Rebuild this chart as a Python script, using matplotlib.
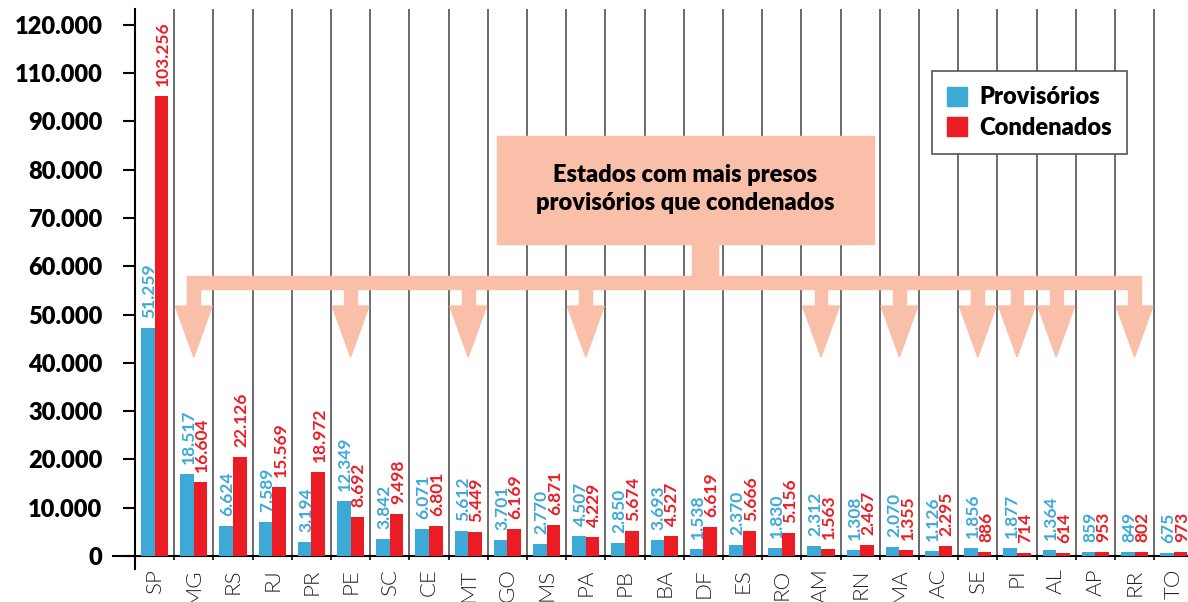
import matplotlib
matplotlib.use("Agg")
import matplotlib.pyplot as plt
import matplotlib.patches as mpatches
import matplotlib.transforms as mtransforms
import numpy as np

# data
states = ["SP", "MG", "RS", "RJ", "PR", "PE", "SC", "CE", "MT", "GO", "MS", "PA",
          "PB", "BA", "DF", "ES", "RO", "AM", "RN", "MA", "AC", "SE", "PI", "AL",
          "AP", "RR", "TO"]
provisorios = [51259, 18517, 6624, 7589, 3194, 12349, 3842, 6071, 5612, 3701, 2770,
               4507, 2850, 3693, 1538, 2370, 1830, 2312, 1308, 2070, 1126, 1856,
               1877, 1364, 859, 849, 675]
condenados = [103256, 16604, 22126, 15569, 18972, 8692, 9498, 6801, 5449, 6169, 6871,
              4229, 5674, 4527, 6619, 5666, 5156, 1563, 2467, 1355, 2295, 886, 714,
              614, 953, 802, 973]
ytick_labels = ["0", "10.000", "20.000", "30.000", "40.000", "50.000", "60.000",
                "70.000", "80.000", "90.000", "110.000", "120.000"]

BLUE = "#3DA9D7"
RED = "#EC1C24"
SALMON = "#F9BFA8"

plt.rcParams["font.family"] = ["Lato", "DejaVu Sans"]


def fmt(v):
    return f"{v:,}".replace(",", ".")


fig = plt.figure(figsize=(11.88, 6.02), dpi=100)
ax = fig.add_axes([135 / 1188, 46 / 602, 27 * 39.2 / 1188, 547 / 602])

x = np.arange(len(states))
w = 0.345
ax.bar(x - w / 2, provisorios, w, color=BLUE, zorder=3)
ax.bar(x + w / 2, condenados, w, color=RED, zorder=3)

for i in x:
    ax.annotate(fmt(provisorios[i]), (x[i] - w / 2, provisorios[i]), xytext=(1.5, 10),
                textcoords="offset pixels", rotation=90, ha="center", va="bottom",
                color=BLUE, fontsize=12.5, fontweight="bold", zorder=6)
    ax.annotate(fmt(condenados[i]), (x[i] + w / 2, condenados[i]), xytext=(1.5, 10),
                textcoords="offset pixels", rotation=90, ha="center", va="bottom",
                color=RED, fontsize=12.5, fontweight="bold", zorder=6)

# axis ticks spaced like the reference's printed scale
tick_step = 10840
ax.set_xlim(-0.5, len(states) - 0.5)
ax.set_ylim(0, tick_step * 11.33)
ax.set_yticks(np.arange(len(ytick_labels)) * tick_step, ytick_labels,
              fontsize=17, fontweight="heavy")
ax.tick_params(axis="y", length=9, width=1.5, pad=14.5)

ax.set_xticks(x + 0.5, [""] * len(x))
ax.tick_params(axis="x", which="major", length=3, width=1.2)
ax.set_xticks(x, states, minor=True, rotation=90, fontsize=16, fontweight=300,
              color="#222222")
ax.tick_params(axis="x", which="minor", length=0, pad=9)

for s in ["top", "right"]:
    ax.spines[s].set_visible(False)
for s in ["left", "bottom"]:
    ax.spines[s].set_linewidth(1.5)

ax.plot([0, 0], [0, -13 / 547], transform=ax.transAxes, clip_on=False, color="k", lw=1.5)
ax.plot([-22 / 1058.4, 0], [0, 0], transform=ax.transAxes, clip_on=False, color="k", lw=1.5)

for k in x[:-1]:
    ax.axvline(k + 0.5, color="#444444", lw=1.1, zorder=1)

# callout box
ax.add_patch(mpatches.Rectangle((497 / 1188, 1 - 244 / 602), 377 / 1188, 108 / 602,
                                transform=fig.transFigure, color=SALMON, zorder=4,
                                clip_on=False))
ax.text(0.577, 0.686, "Estados com mais presos\nprovisórios que condenados",
        transform=fig.transFigure, ha="center", va="center", fontsize=17,
        fontweight="heavy", linespacing=1.35, zorder=5)

# arrows to states with more provisional than convicted prisoners
targets = [i for i in x if provisorios[i] > condenados[i]]
trans = mtransforms.blended_transform_factory(ax.transData, ax.transAxes)
shaft = 0.33
ax.add_patch(mpatches.Rectangle((targets[0] - shaft / 2, 0.488),
                                targets[-1] - targets[0] + shaft, 0.024,
                                transform=trans, color=SALMON, zorder=4, clip_on=False))
stem_trans = mtransforms.blended_transform_factory(fig.transFigure, ax.transAxes)
ax.add_patch(mpatches.Rectangle((692 / 1188, 0.5), 26 / 1188, 0.07,
                                transform=stem_trans, color=SALMON, zorder=4, clip_on=False))
for t in targets:
    ax.add_patch(mpatches.Rectangle((t - shaft / 2, 0.45), shaft, 0.045,
                                    transform=trans, color=SALMON, zorder=4))
    ax.add_patch(mpatches.Polygon([(t - 0.47, 0.457), (t + 0.47, 0.457), (t, 0.364)],
                                  closed=True, transform=trans, color=SALMON, zorder=4))

handles = [mpatches.Patch(color=BLUE, label="Provisórios"),
           mpatches.Patch(color=RED, label="Condenados")]
leg = fig.legend(handles=handles, loc="upper left", bbox_to_anchor=(932 / 1188, 1 - 71 / 602),
                 frameon=True, fancybox=False, edgecolor="#555555", framealpha=1,
                 prop={"weight": "heavy", "size": 17}, handlelength=0.85, handleheight=0.85,
                 borderpad=0.65, labelspacing=0.35, handletextpad=0.5, borderaxespad=0)
leg.get_frame().set_linewidth(1.2)

fig.savefig("out.png", dpi=100)
